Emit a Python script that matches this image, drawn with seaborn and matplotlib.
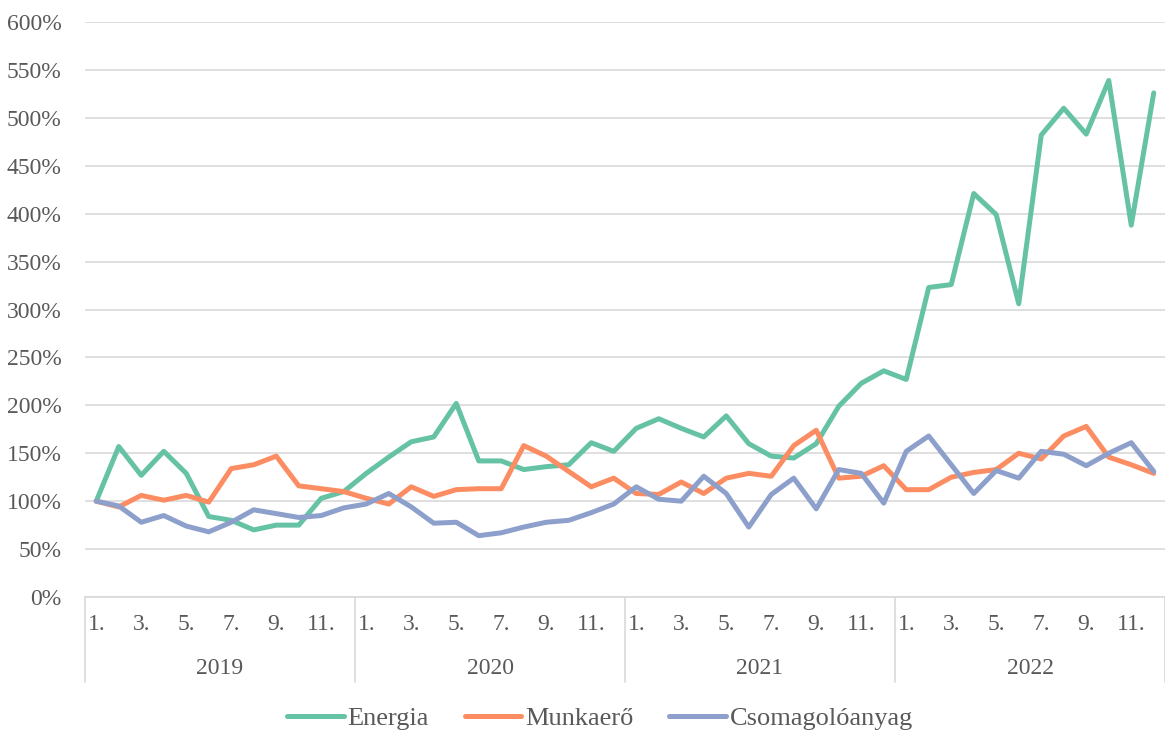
import matplotlib
matplotlib.use("Agg")
import matplotlib.pyplot as plt
import matplotlib.transforms as mtransforms
from matplotlib.ticker import FuncFormatter, MultipleLocator
import pandas as pd
import seaborn as sns

# havi indexek, 2019. január = 100%
years = ["2019", "2020", "2021", "2022"]
months = list(range(1, 13))

energia = [100, 157, 127, 152, 129, 84, 80, 70, 75, 75, 103, 110,
           129, 146, 162, 167, 202, 142, 142, 133, 136, 138, 161, 152,
           176, 186, 176, 167, 189, 160, 147, 145, 160, 199, 223, 236,
           227, 323, 326, 421, 399, 306, 482, 510, 483, 539, 388, 526]
munkaero = [100, 94, 106, 101, 106, 99, 134, 138, 147, 116, 113, 110,
            103, 97, 115, 105, 112, 113, 113, 158, 147, 131, 115, 124,
            108, 107, 120, 108, 124, 129, 126, 158, 174, 124, 126, 137,
            112, 112, 125, 130, 133, 150, 144, 168, 178, 146, 138, 129]
csomag = [100, 95, 78, 85, 74, 68, 78, 91, 87, 83, 85, 93,
          97, 108, 94, 77, 78, 64, 67, 73, 78, 80, 88, 97,
          115, 102, 100, 126, 108, 73, 107, 124, 92, 133, 129, 98,
          152, 168, 138, 108, 132, 124, 152, 149, 137, 150, 161, 131]

series = {"Energia": energia, "Munkaerő": munkaero, "Csomagolóanyag": csomag}
colors = {"Energia": "#66c2a5", "Munkaerő": "#fc8d62", "Csomagolóanyag": "#8da0cb"}

rows = []
for name, vals in series.items():
    for i, v in enumerate(vals):
        rows.append({"idx": i + 1, "ertek": v, "sor": name})
df = pd.DataFrame(rows)

sns.set_style("white")
plt.rcParams["font.family"] = ["Liberation Serif", "DejaVu Serif"]
text_col = "#595959"
grid_col = "#d9d9d9"
fs = 17
fs_leg = 19

fig = plt.figure(figsize=(11.65, 7.34), dpi=100)
ax = fig.add_axes([85 / 1165, 1 - 597 / 734, 1 - 85 / 1165, (597 - 22) / 734])

sns.lineplot(data=df, x="idx", y="ertek", hue="sor", palette=colors,
             hue_order=list(series.keys()), linewidth=3.6, ax=ax,
             solid_joinstyle="round", solid_capstyle="round")

ax.set_xlim(0.5, 48.5)
ax.set_ylim(0, 600)
ax.yaxis.set_major_locator(MultipleLocator(50))
ax.yaxis.set_major_formatter(FuncFormatter(lambda v, p: f"{v:.0f}%"))
ax.grid(axis="y", color=grid_col, linewidth=1.2)
ax.set_axisbelow(True)
for s in ["top", "right", "left"]:
    ax.spines[s].set_visible(False)
ax.spines["bottom"].set_color(grid_col)
ax.spines["bottom"].set_linewidth(1.2)

# hónap címkék (páratlan hónapok)
ticks = [y * 12 + m for y in range(len(years)) for m in months if m % 2 == 1]
labels = [f"{(t - 1) % 12 + 1}." for t in ticks]
ax.set_xticks(ticks)
ax.set_xticklabels(labels)
ax.tick_params(axis="x", length=0, pad=12, labelsize=fs, labelcolor=text_col)
ax.tick_params(axis="y", length=0, pad=17, labelsize=fs, labelcolor=text_col)
ax.set_xlabel("")
ax.set_ylabel("")

# év címkék és elválasztók
trans = mtransforms.blended_transform_factory(ax.transData, ax.transAxes)
for k, yr in enumerate(years):
    ax.text(12 * k + 6.5, -(668 - 597) / 575, yr, transform=trans,
            ha="center", va="center", fontsize=fs, color=text_col)
for k in range(len(years) + 1):
    ax.plot([12 * k + 0.5, 12 * k + 0.5], [0, -(682 - 597) / 575],
            transform=trans, color=grid_col, linewidth=1.2, clip_on=False)

sns.move_legend(ax, "center", bbox_to_anchor=(0.477, -(718 - 597) / 575),
                ncol=3, frameon=False, title=None, fontsize=fs_leg,
                handlelength=2.15, handletextpad=0.15, columnspacing=1.35)
for t in ax.get_legend().get_texts():
    t.set_color(text_col)
for h in ax.get_legend().legend_handles:
    h.set_linewidth(3.6)
    h.set_solid_capstyle("round")

fig.savefig("out.png", dpi=100)
